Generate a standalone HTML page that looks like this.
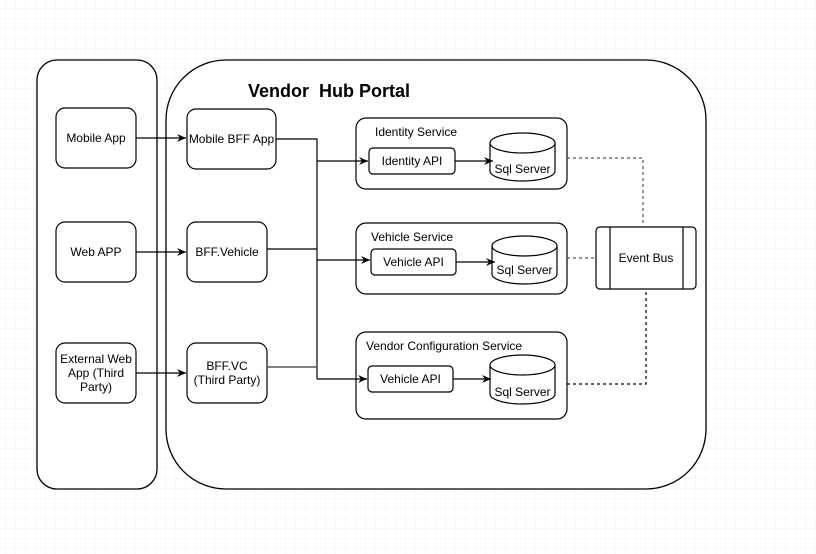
<!DOCTYPE html>
<html><head><meta charset="utf-8"><style>
html,body{margin:0;padding:0;background:#fff;}
svg{display:block;font-family:"Liberation Sans",Arial,sans-serif;}
</style></head><body>
<svg width="816" height="554" viewBox="0 0 816 554" xmlns="http://www.w3.org/2000/svg">
<defs>
<pattern id="gmin" width="10" height="10" patternUnits="userSpaceOnUse" x="6" y="9">
<path d="M10 0V10M0 10H10" fill="none" stroke="#f1f1f1" stroke-width="1"/>
</pattern>
<pattern id="gmaj" width="40" height="40" patternUnits="userSpaceOnUse" x="-4" y="-11">
<path d="M40.5 0V40M0 40.5H40" fill="none" stroke="#e2e2e2" stroke-width="1"/>
</pattern>
<marker id="ar" markerWidth="10" markerHeight="10" refX="9" refY="5" orient="auto" markerUnits="userSpaceOnUse">
<path d="M0,1 L9,5 L0,9 L3,5 Z" fill="#000"/>
</marker>
</defs>
<rect width="816" height="554" fill="url(#gmin)"/>
<rect width="816" height="554" fill="url(#gmaj)"/>
<g fill="#fff" stroke="#000" stroke-width="1.3">
<rect x="37" y="60" width="120" height="429" rx="20"/>
<rect x="166" y="60" width="540" height="429" rx="60"/>
</g>
<text x="248" y="97" font-size="18" font-weight="bold">Vendor&#160; Hub Portal</text>
<g fill="#fff" stroke="#000" stroke-width="1.2">
<rect x="56" y="108" width="80" height="60" rx="9"/>
<rect x="56" y="222" width="80" height="60" rx="9"/>
<rect x="56" y="343" width="80" height="60" rx="9"/>
<rect x="187" y="109" width="89" height="60" rx="9"/>
<rect x="187" y="222" width="80" height="60" rx="9"/>
<rect x="187" y="343" width="80" height="60" rx="9"/>
<rect x="356" y="118" width="211" height="71" rx="10"/>
<rect x="356" y="223" width="211" height="71" rx="10"/>
<rect x="356" y="332" width="211" height="87" rx="10"/>
<rect x="369" y="148" width="86" height="26" rx="4"/>
<rect x="371" y="249" width="85" height="26" rx="4"/>
<rect x="368" y="366" width="85" height="26" rx="4"/>
<rect x="596" y="227" width="100" height="62" rx="4"/>
</g>
<g stroke="#000" stroke-width="1.2" fill="none">
<line x1="610" y1="227" x2="610" y2="289"/>
<line x1="683" y1="227" x2="683" y2="289"/>
</g>
<g fill="#fff" stroke="#000" stroke-width="1.2">
<path d="M490 143 V171 A32.5 10 0 0 0 555 171 V143"/>
<ellipse cx="522.5" cy="143" rx="32.5" ry="10"/>
<path d="M492 246 V274 A32.5 10 0 0 0 557 274 V246"/>
<ellipse cx="524.5" cy="246" rx="32.5" ry="10"/>
<path d="M490 365 V394 A32.5 10 0 0 0 555 394 V365"/>
<ellipse cx="522.5" cy="365" rx="32.5" ry="10"/>
</g>
<g stroke="#000" stroke-width="1.2" fill="none">
<line x1="136" y1="138" x2="186" y2="138" marker-end="url(#ar)"/>
<line x1="136" y1="252" x2="186" y2="252" marker-end="url(#ar)"/>
<line x1="136" y1="373" x2="186" y2="373" marker-end="url(#ar)"/>
<polyline points="276,139 317,139 317,379"/>
<line x1="267" y1="249" x2="317" y2="249"/>
<line x1="267" y1="367" x2="317" y2="367" stroke="#555" stroke-width="1.5"/>
<line x1="317" y1="161" x2="368" y2="161" marker-end="url(#ar)"/>
<line x1="317" y1="260" x2="370" y2="260" marker-end="url(#ar)"/>
<line x1="317" y1="379" x2="367" y2="379" marker-end="url(#ar)"/>
<line x1="455" y1="161" x2="493" y2="161" marker-end="url(#ar)"/>
<line x1="456" y1="262" x2="495" y2="262" marker-end="url(#ar)"/>
<line x1="453" y1="379" x2="491" y2="379" marker-end="url(#ar)"/>
</g>
<g stroke="#555" stroke-width="1.2" fill="none" stroke-dasharray="3,3">
<polyline points="567,158 643,158 643,227"/>
<line x1="567" y1="258" x2="596" y2="258"/>
<polyline points="567,384 646,384 646,289" stroke="#000"/>
</g>
<g font-size="12" fill="#000" text-anchor="middle">
<text x="96" y="142">Mobile App</text>
<text x="96" y="256">Web APP</text>
<text x="96" y="363">External Web</text>
<text x="96" y="377">App (Third</text>
<text x="96" y="391">Party)</text>
<text x="231.5" y="143">Mobile BFF App</text>
<text x="227" y="256">BFF.Vehicle</text>
<text x="227" y="370">BFF.VC</text>
<text x="227" y="384">(Third Party)</text>
<text x="412" y="165">Identity API</text>
<text x="413.5" y="266">Vehicle API</text>
<text x="410.5" y="383">Vehicle API</text>
<text x="522.5" y="173">Sql Server</text>
<text x="524.5" y="274">Sql Server</text>
<text x="522.5" y="396">Sql Server</text>
<text x="646" y="262">Event Bus</text>
</g>
<g font-size="12" fill="#000">
<text x="375" y="136">Identity Service</text>
<text x="371" y="241">Vehicle Service</text>
<text x="366" y="350">Vendor Configuration Service</text>
</g>
</svg>
</body></html>
